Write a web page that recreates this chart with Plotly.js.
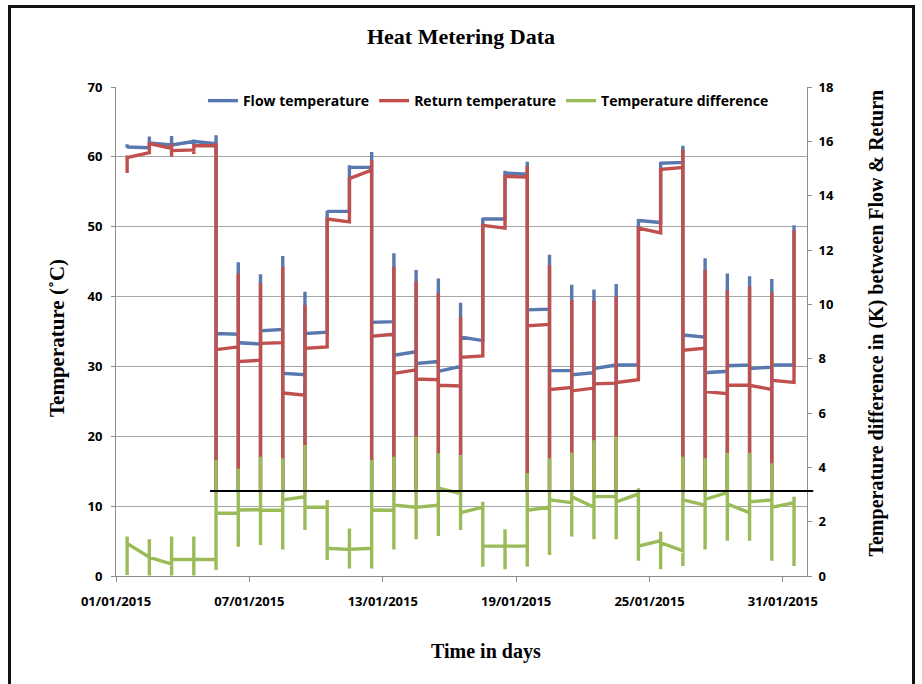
<!DOCTYPE html>
<html>
<head>
<meta charset="utf-8">
<script src="https://cdn.plot.ly/plotly-3.0.1.min.js"></script>
<style>
  html, body { margin: 0; padding: 0; background: #fff; }
  #wrap { position: relative; width: 922px; height: 684px; overflow: hidden; }
  #chart { position: absolute; left: 0; top: 0; width: 922px; height: 684px; }
  #frame { position: absolute; left: 8px; top: 5px; width: 907px; height: 700px;
           border: 3px solid #111; box-sizing: border-box; pointer-events: none; }
</style>
</head>
<body>
<div id="wrap">
  <div id="chart"></div>
  <div id="frame"></div>
</div>
<script>
// ---- Days (one reading block per day) ----
const days = ['2015-01-01','2015-01-02','2015-01-03','2015-01-04','2015-01-05','2015-01-06',
  '2015-01-07','2015-01-08','2015-01-09','2015-01-10','2015-01-11','2015-01-12','2015-01-13',
  '2015-01-14','2015-01-15','2015-01-16','2015-01-17','2015-01-18','2015-01-19','2015-01-20',
  '2015-01-21','2015-01-22','2015-01-23','2015-01-24','2015-01-25','2015-01-26','2015-01-27',
  '2015-01-28','2015-01-29','2015-01-30','2015-01-31'];
const readTime = '12:00';

// ---- Flow temperature (°C) ----
// daily spike extremes (31 days)
const flowHigh = [61.8,62.9,63.0,62.5,63.1,44.9,43.2,45.8,40.7,52.3,58.8,60.7,46.2,43.8,42.6,39.1,
  51.3,58.0,59.3,46.0,41.7,41.0,41.8,51.1,59.3,61.6,45.5,43.3,42.9,42.5,50.2];
const flowLow = [61.3,61.3,61.7,61.7,12,12,12,12,12,34.9,52.2,12,12,12,12,12,
  33.7,51.1,12,12,12,12,12,30.2,50.6,12,12,12,12,12,30.2];
// level at start / end of each daily segment (30 segments)
const flowStart = [61.4,62.0,61.7,62.2,34.7,33.4,35.1,29.0,34.7,52.2,58.5,36.3,31.6,30.4,29.3,
  34.2,51.1,57.7,38.1,29.4,28.8,29.7,30.2,50.9,59.1,34.5,29.1,30.1,29.7,30.2];
const flowEnd = [61.3,61.7,62.2,61.9,34.6,33.2,35.3,28.8,34.9,52.2,58.5,36.4,32.1,30.7,30.0,
  33.7,51.1,57.5,38.2,29.4,29.1,30.2,30.2,50.6,59.2,34.2,29.3,30.2,29.9,30.2];

// ---- Return temperature (°C) ----
const retHigh = [60.2,62.0,61.9,61.8,62.0,43.3,41.9,44.3,38.8,51.1,57.0,59.5,44.3,42.2,40.5,37.1,
  50.2,57.2,58.7,44.5,39.5,39.4,40.0,49.8,58.4,61.0,43.8,40.9,41.4,40.6,49.5];
const retLow = [57.7,60.5,60.0,60.4,12,12,12,12,12,32.8,50.7,12,12,12,12,12,
  31.5,49.8,12,12,12,12,12,28.1,49.1,12,12,12,12,12,27.7];
const retStart = [59.9,61.9,60.9,61.6,32.4,30.7,33.3,26.2,32.6,51.1,56.9,34.3,29.0,28.2,27.3,
  31.3,50.2,57.2,35.8,26.7,26.5,27.5,27.7,49.8,58.2,32.3,26.4,27.3,27.3,28.0];
const retEnd = [60.6,61.2,61.0,61.6,32.8,30.9,33.4,25.9,32.8,50.7,58.1,34.6,29.5,28.1,27.2,
  31.5,49.8,57.1,36.0,27.0,26.9,27.6,28.1,49.1,58.5,32.6,26.1,27.3,26.7,27.7];

// ---- Temperature difference (K) ----
const diffHigh = [1.45,1.35,1.45,1.45,4.27,3.96,4.39,4.33,4.82,2.80,1.75,4.27,4.39,5.13,4.52,4.45,
  2.73,1.72,3.78,4.33,4.54,5.00,5.13,3.23,1.63,4.39,4.33,4.54,4.54,4.15,2.92];
const diffLow = [0.04,0.02,0.02,0.02,0.22,1.08,1.14,0.98,1.69,0.59,0.28,0.28,0.98,1.35,1.47,1.69,
  0.34,0.25,0.34,0.77,1.45,1.35,1.35,0.56,0.25,0.37,0.98,1.30,1.30,0.56,0.37];
const diffStart = [1.20,0.69,0.61,0.61,2.31,2.43,2.43,2.80,2.53,1.02,0.98,2.43,2.61,2.53,3.23,
  2.33,1.10,1.10,2.42,2.80,2.92,2.92,2.73,1.10,1.23,2.80,2.82,2.65,2.73,2.53];
const diffEnd = [0.69,0.44,0.61,0.61,2.31,2.44,2.42,2.92,2.53,0.98,1.02,2.42,2.53,2.61,3.04,
  2.53,1.10,1.10,2.53,2.70,2.53,2.92,3.02,1.30,0.93,2.61,3.07,2.33,2.80,2.70];

// ---- Reference line (K) ----
const thresholdK = 3.13;
const thresholdFrom = '2015-01-05 05:30';

const seriesNames = ['Flow temperature','Return temperature','Temperature difference'];
const colors = ['#5878b0','#c0504d','#9bbb59'];
const titles = {
  chart: 'Heat Metering Data',
  x: 'Time in days',
  y: 'Temperature (˚C)',
  y2: 'Temperature difference in (K) between Flow &amp; Return'
};

function buildPath(high, low, start, end) {
  const x = [], y = [];
  for (let i = 0; i < days.length; i++) {
    const t = days[i] + ' ' + readTime;
    if (i > 0) { x.push(t); y.push(end[i - 1]); }
    x.push(t); y.push(high[i]);
    x.push(t); y.push(low[i]);
    if (i < start.length) { x.push(t); y.push(start[i]); }
  }
  return { x, y };
}

const pF = buildPath(flowHigh, flowLow, flowStart, flowEnd);
const pR = buildPath(retHigh, retLow, retStart, retEnd);
const pD = buildPath(diffHigh, diffLow, diffStart, diffEnd);

const lw = 3.4;
const traces = [
  { x: pF.x, y: pF.y, name: seriesNames[0], type: 'scatter', mode: 'lines',
    line: { color: colors[0], width: lw }, yaxis: 'y' },
  { x: pR.x, y: pR.y, name: seriesNames[1], type: 'scatter', mode: 'lines',
    line: { color: colors[1], width: lw }, yaxis: 'y' },
  { x: pD.x, y: pD.y, name: seriesNames[2], type: 'scatter', mode: 'lines',
    line: { color: colors[2], width: lw }, yaxis: 'y2' }
];

const xRange = ['2015-01-01', '2015-02-01 02:00'];
const t0 = new Date(xRange[0].replace(' ', 'T') + 'Z').getTime();
const t1 = new Date(xRange[1].replace(' ', 'T') + 'Z').getTime();
const tTh = new Date(thresholdFrom.replace(' ', 'T') + 'Z').getTime();

const tickFont = { family: 'Open Sans, sans-serif', size: 13, color: '#000', weight: 'bold' };
const serif = 'Liberation Serif, Times New Roman, serif';
const axisGray = '#8c8c8c';

const layout = {
  width: 922, height: 684,
  margin: { l: 116, r: 115, t: 87, b: 108 },
  paper_bgcolor: '#fff', plot_bgcolor: '#fff',
  title: { text: titles.chart, font: { family: serif, size: 22, color: '#000', weight: 'bold' },
           x: 0.5, xref: 'container', y: 1 - 36 / 684, yref: 'container', yanchor: 'middle' },
  showlegend: true,
  legend: { orientation: 'h', x: 0.1258, y: 1.004, xanchor: 'left', yanchor: 'top',
            font: { family: 'Open Sans, sans-serif', size: 14, color: '#000', weight: 'bold' },
            bgcolor: 'rgba(0,0,0,0)', tracegroupgap: 0 },
  xaxis: {
    type: 'date', range: xRange, tick0: '2015-01-01', dtick: 6 * 86400000,
    tickformat: '%d/%m/%Y', ticks: 'outside', ticklen: 5, tickcolor: axisGray,
    showline: true, linecolor: axisGray, linewidth: 1, showgrid: false, zeroline: false,
    tickfont: tickFont, ticklabelstandoff: 8
  },
  yaxis: {
    range: [0, 70], dtick: 10, ticks: 'outside', ticklen: 4, tickcolor: axisGray,
    showline: true, linecolor: axisGray, showgrid: true, gridcolor: '#a6a6a6', gridwidth: 1,
    zeroline: false, tickfont: tickFont, ticklabelstandoff: 6
  },
  yaxis2: {
    range: [0, 18], dtick: 2, overlaying: 'y', side: 'right', ticks: 'outside', ticklen: 4,
    tickcolor: axisGray, showline: true, linecolor: axisGray, showgrid: false, zeroline: false,
    tickfont: tickFont, ticklabelstandoff: 4
  },
  annotations: [
    { text: titles.x, xref: 'paper', yref: 'paper', x: 0.5355, y: -0.1554,
      xanchor: 'center', yanchor: 'middle', showarrow: false,
      font: { family: serif, size: 20, color: '#000', weight: 'bold' } },
    { text: titles.y, xref: 'paper', yref: 'paper', x: -0.0854, y: 0.4867, textangle: -90,
      xanchor: 'center', yanchor: 'middle', showarrow: false,
      font: { family: serif, size: 21, color: '#000', weight: 'bold' } },
    { text: titles.y2, xref: 'paper', yref: 'paper', x: 1.0999, y: 0.5164, textangle: -90,
      xanchor: 'center', yanchor: 'middle', showarrow: false,
      font: { family: serif, size: 20, color: '#000', weight: 'bold' } }
  ],
  shapes: [{
    type: 'line', xref: 'paper', yref: 'y2',
    x0: (tTh - t0) / (t1 - t0), x1: 1.009, y0: thresholdK, y1: thresholdK,
    line: { color: '#000', width: 2 }
  }]
};

Plotly.newPlot('chart', traces, layout, { displayModeBar: false, staticPlot: true });
</script>
</body>
</html>
